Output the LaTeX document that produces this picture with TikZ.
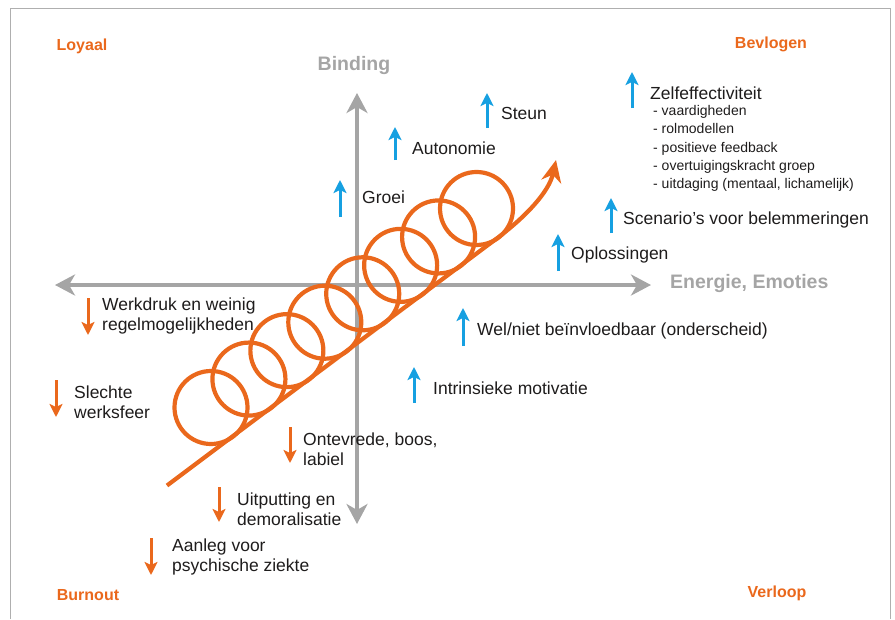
\documentclass[tikz,border=0pt]{standalone}
\usepackage{fontspec}
\setmainfont{Liberation Sans}
\usepackage{tikz}
\usetikzlibrary{arrows.meta,positioning}
\definecolor{coilorange}{RGB}{234,104,28}
\definecolor{upblue}{RGB}{22,160,225}
\definecolor{axisgray}{RGB}{165,165,165}
\definecolor{framegray}{RGB}{175,175,175}
\definecolor{textdark}{RGB}{30,28,28}
\tikzset{
  every picture/.style = {
    x = 1pt,
    y = -1pt,
  }
  ,
  axis/.style = {
    draw = axisgray,
    line width = 3.5pt,
    -{Stealth[length=20pt,width=21pt,inset=6pt]}
  }
  ,
  coil/.style = {
    draw = coilorange,
    line width = 4.2pt
  }
  , % arrows of the items
  up/.style = {
    draw = upblue,
    line width = 3pt,
    -{Stealth[length=13pt,width=13pt,inset=3pt]}
  }
  ,
  down/.style = {
    draw = coilorange,
    line width = 3pt,
    -{Stealth[length=13pt,width=13pt,inset=3pt]}
  }
  , % labels of items
  label-item/.style = {
    anchor = west,
    inner sep = 0pt,
    align = left,
    text = textdark,
    font = \fontsize{17.5}{20}\selectfont
  }
  , % labels of quadrants
  label-corner/.style = {
    inner sep = 0pt,
    text = coilorange,
    font = \fontsize{16}{18}\selectfont\bfseries
  }
  , % labels of axes
  label-axis/.style = {
    inner sep = 0pt,
    text = axisgray,
    font = \fontsize{19.5}{22}\selectfont\bfseries
  }
}
\begin{document}
\begin{tikzpicture}
  \useasboundingbox (0,0) rectangle (895,619);
  \draw[framegray, line width=1pt] (10.5,619) -- (10.5,8) -- (890,8) -- (890,619);

  % axes
  \coordinate (o) at (357,285);
  \coordinate (ax-top) at (357,93);
  \coordinate (ax-bot) at (357,524);
  \coordinate (ax-left) at (55,285);
  \coordinate (ax-right) at (651,285);
  \draw[axis] (o) -- (ax-top);
  \draw[axis] (o) -- (ax-bot);
  \draw[axis] (o) -- (ax-left);
  \draw[axis] (o) -- (ax-right);
  \node[label-axis] (binding) at (354,65) {Binding};
  \node[label-axis, anchor=west] (energie) at (670,283) {Energie, Emoties};

  % quadrants
  \node[label-corner] (loyaal) at (82,46) {Loyaal};
  \node[label-corner] (bevlogen) at (771,44) {Bevlogen};
  \node[label-corner] (burnout) at (88,595) {Burnout};
  \node[label-corner] (verloop) at (777,593) {Verloop};

  % coil
  \foreach \i in {0,...,7}
    \draw[coil] ({211+37.93*\i},{407.5-28.43*\i}) circle[radius=36.5pt];
  \coordinate (coil-start) at (167,485.5);
  \coordinate (coil-turn) at (500,236);
  \coordinate (coil-end) at (556,160);
  \draw[coil, -{Stealth[length=22pt,width=20pt,inset=7pt]}]
    (coil-start) -- (coil-turn) .. controls (526,216) and (549,192) .. (coil-end);

  % up
  \coordinate (zelf-b) at (632,108);  \coordinate (zelf-t) at (632,72);
  \coordinate (steun-b) at (487,128); \coordinate (steun-t) at (487,93);
  \coordinate (auto-b) at (395,160);  \coordinate (auto-t) at (395,127);
  \coordinate (groei-b) at (340,217); \coordinate (groei-t) at (340,180);
  \coordinate (scen-b) at (611,233);  \coordinate (scen-t) at (611,198);
  \coordinate (opl-b) at (558,271);   \coordinate (opl-t) at (558,234);
  \coordinate (wel-b) at (463,346);   \coordinate (wel-t) at (463,308);
  \coordinate (intr-b) at (414,403);  \coordinate (intr-t) at (414,367);
  \foreach \a in {zelf,steun,auto,groei,scen,opl,wel,intr}
    \draw[up] (\a-b) -- (\a-t);

  \node[label-item] (zelf) at (650,93) {Zelfeffectiviteit};
  \node[label-item, font=\fontsize{14}{18.4}\selectfont] (zelf-list) at (653,148.5)
    {- vaardigheden\\- rolmodellen\\- positieve feedback\\- overtuigingskracht groep\\- uitdaging (mentaal, lichamelijk)};
  \node[label-item] (steun) at (501,113) {Steun};
  \node[label-item] (auto) at (412,148) {Autonomie};
  \node[label-item] (groei) at (362,197) {Groei};
  \node[label-item] (scen) at (623,220) {Scenario's voor belemmeringen};
  \node[label-item] (opl) at (571,255) {Oplossingen};
  \node[label-item] (wel) at (477,331) {Wel/niet beïnvloedbaar (onderscheid)};
  \node[label-item] (intr) at (433,388) {Intrinsieke motivatie};

  % down
  \coordinate (werk-t) at (88,298);   \coordinate (werk-b) at (88,335);
  \coordinate (sfeer-t) at (56,380);  \coordinate (sfeer-b) at (56,417);
  \coordinate (ontev-t) at (290,427); \coordinate (ontev-b) at (290,463);
  \coordinate (uitp-t) at (219,487);  \coordinate (uitp-b) at (219,522);
  \coordinate (aanl-t) at (151,538);  \coordinate (aanl-b) at (151,575);
  \foreach \a in {werk,sfeer,ontev,uitp,aanl}
    \draw[down] (\a-t) -- (\a-b);

  \node[label-item] (werk) at (102,316) {Werkdruk en weinig\\regelmogelijkheden};
  \node[label-item] (sfeer) at (74,402) {Slechte\\werksfeer};
  \node[label-item] (ontev) at (303,449) {Ontevrede, boos,\\labiel};
  \node[label-item] (uitp) at (237,509) {Uitputting en\\demoralisatie};
  \node[label-item] (aanl) at (172,557) {Aanleg voor\\psychische ziekte};
\end{tikzpicture}
\end{document}
